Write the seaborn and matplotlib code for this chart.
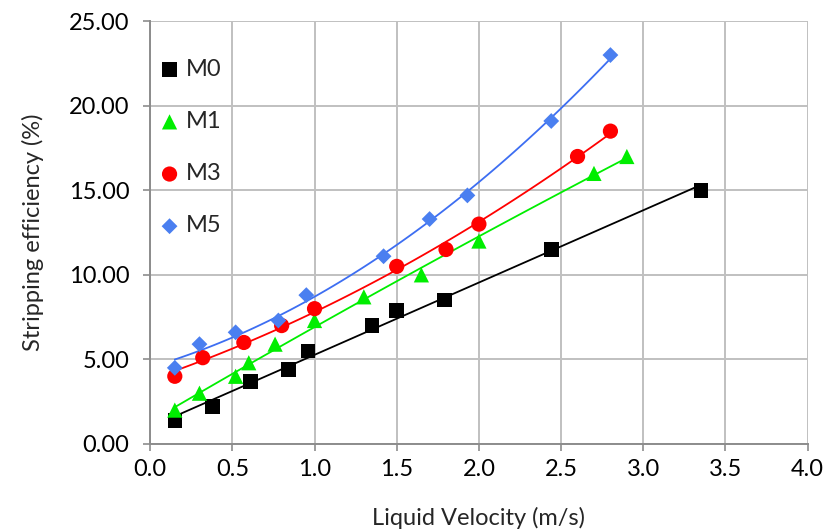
import matplotlib
matplotlib.use("Agg")
import matplotlib.pyplot as plt
import seaborn as sns
import numpy as np
import pandas as pd

# ---- data ----
m0_x = [0.15, 0.38, 0.61, 0.84, 0.96, 1.35, 1.50, 1.79, 2.44, 3.35]
m0_y = [1.4, 2.2, 3.7, 4.4, 5.5, 7.0, 7.9, 8.5, 11.5, 15.0]

m1_x = [0.15, 0.30, 0.52, 0.60, 0.76, 1.00, 1.30, 1.65, 2.00, 2.70, 2.90]
m1_y = [2.0, 3.0, 4.0, 4.8, 5.9, 7.3, 8.7, 10.0, 12.0, 16.0, 17.0]

m3_x = [0.15, 0.32, 0.57, 0.80, 1.00, 1.50, 1.80, 2.00, 2.60, 2.80]
m3_y = [4.0, 5.1, 6.0, 7.0, 8.0, 10.5, 11.5, 13.0, 17.0, 18.5]

m5_x = [0.15, 0.30, 0.52, 0.78, 0.95, 1.42, 1.70, 1.93, 2.44, 2.80]
m5_y = [4.5, 5.9, 6.6, 7.3, 8.8, 11.1, 13.3, 14.7, 19.1, 23.0]

series_names = ["M0", "M1", "M3", "M5"]
x_ticks = [0.0, 0.5, 1.0, 1.5, 2.0, 2.5, 3.0, 3.5, 4.0]
y_ticks = [0, 5, 10, 15, 20, 25]

# ---- style ----
sns.set_theme(style="white")
plt.rcParams["font.family"] = ["Lato", "DejaVu Sans"]

fig = plt.figure(figsize=(8.25, 5.31), dpi=100)
ax = fig.add_axes([0.182, 0.164, 0.797, 0.796])

series = [
    ("M0", m0_x, m0_y, "s", "#000000", "#000000", 1, 110),
    ("M1", m1_x, m1_y, "^", "#00ee00", "#00ee00", 2, 120),
    ("M3", m3_x, m3_y, "o", "#ff0000", "#ff0000", 2, 120),
    ("M5", m5_x, m5_y, "D", "#4a7ff0", "#3d6ef2", 2, 65),
]

for name, xs, ys, mk, mcol, lcol, order, size in series:
    df = pd.DataFrame({"x": xs, "y": ys})
    sns.regplot(data=df, x="x", y="y", order=order, ci=None, scatter=False,
                ax=ax, line_kws={"color": lcol, "lw": 1.3, "zorder": 2})
    sns.scatterplot(data=df, x="x", y="y", marker=mk, color=mcol, s=size,
                    edgecolor="none", ax=ax, label=name, zorder=3)

ax.set_xlim(0, 4.0)
ax.set_ylim(0, 25)
ax.set_xticks(x_ticks)
ax.set_yticks(y_ticks)
ax.set_xticklabels([f"{v:.1f}" for v in x_ticks])
ax.set_yticklabels([f"{v:.2f}" for v in y_ticks])

ax.grid(True, color="#c0c0c0", lw=1.4)
ax.set_axisbelow(True)
for s in ["top", "right"]:
    ax.spines[s].set_visible(False)
for s in ["left", "bottom"]:
    ax.spines[s].set_color("#8c8c8c")
    ax.spines[s].set_linewidth(1.4)

ax.tick_params(axis="both", labelsize=17, colors="#000000", length=5,
               width=1.2, color="#8c8c8c", direction="out", left=True, bottom=True)
ax.tick_params(axis="y", pad=10)
ax.tick_params(axis="x", pad=6)

ax.set_xlabel("Liquid Velocity (m/s)", fontsize=17, labelpad=19)
ax.set_ylabel("Stripping efficiency (%)", fontsize=17, labelpad=18)

leg = ax.legend(loc="upper left", bbox_to_anchor=(-0.01, 0.95), frameon=False,
                fontsize=17, labelspacing=1.32, handletextpad=0.3,
                handlelength=0.8, borderaxespad=0.3)

fig.savefig("out.png", dpi=100)
